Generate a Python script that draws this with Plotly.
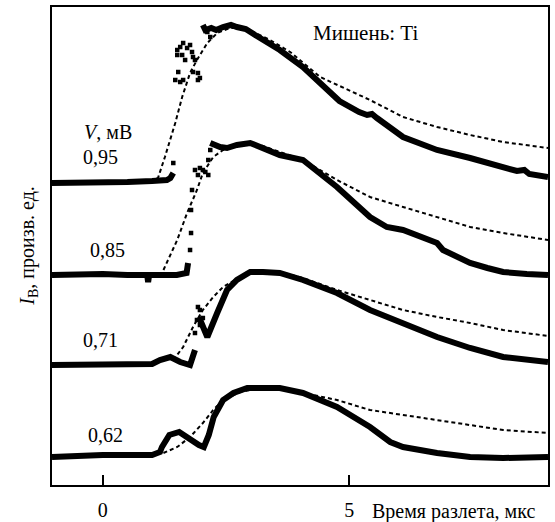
import plotly.graph_objects as go

# ---- time axis (мкс) and signal (arb. units, offset curves) ----
# V = 0.95 mV
t95 = [-1.03, -0.5, 0.0, 0.5, 1.0, 1.3, 1.37, 1.43]
i95 = [302, 302, 302, 303, 304, 305, 307, 312]
t95b = [2.03, 2.08, 2.2, 2.3, 2.44, 2.6, 2.72, 2.9, 3.09, 3.39, 3.59, 4.06, 4.41, 4.8, 5.2, 5.36, 5.46, 5.56,
        6.09, 6.78, 7.45, 8.12, 8.4, 8.55, 8.65, 9.03]
i95b = [460, 455, 457, 455, 458, 460, 458, 456, 450, 441, 435, 418, 402, 384, 373, 370, 371, 367,
        348, 335, 327, 318, 314, 315, 311, 308]
t95s = [1.43, 1.51, 1.57, 1.63, 1.71, 1.77, 1.81, 1.61, 1.51, 1.67, 1.83, 1.87, 1.53, 1.47, 1.57, 1.63,
        1.83, 1.93, 1.97, 1.93, 2.12, 2.18]
i95s = [322, 435, 438, 442, 437, 440, 433, 430, 430, 425, 428, 425, 413, 405, 403, 405,
        413, 412, 407, 405, 453, 448]
tf95 = [0.96, 1.12, 1.26, 1.47, 1.61, 1.77, 1.91, 2.12, 2.32, 2.58, 2.89, 3.39, 3.80, 4.41, 5.42, 6.09,
        6.78, 7.45, 8.12, 9.03]
if95 = [304, 307, 328, 362, 388, 412, 425, 442, 452, 457, 457, 445, 433, 408, 385, 368,
        358, 350, 343, 337]

# V = 0.85 mV
t85 = [-1.03, -0.5, 0.0, 0.5, 0.9, 0.92, 0.94, 1.5, 1.7, 1.73]
i85 = [210, 211, 211, 210, 210, 203, 210, 210, 212, 222]
t85b = [2.18, 2.38, 2.52, 2.72, 2.99, 3.25, 3.39, 3.59, 4.06, 4.75, 5.42, 5.76, 6.09, 6.78, 6.9,
        7.45, 7.8, 8.12, 8.6, 9.03]
i85b = [342, 338, 337, 340, 342, 337, 335, 330, 325, 298, 268, 258, 255, 242, 235,
        222, 217, 213, 211, 210]
t85s = [1.77, 1.79, 1.79, 1.81, 1.87, 1.97, 2.08, 1.93, 2.14, 2.03, 2.18, 2.14]
i85s = [235, 252, 275, 295, 315, 317, 313, 310, 310, 315, 335, 325]
tf85 = [1.23, 1.51, 1.71, 1.91, 2.03, 2.24, 2.44, 2.79, 3.19, 3.59, 4.06, 4.75, 5.42, 6.09, 6.78,
        7.45, 8.12, 9.03]
if85 = [215, 245, 272, 295, 312, 328, 335, 340, 340, 333, 325, 305, 288, 278, 268,
        258, 252, 245]

# V = 0.71 mV
t71 = [-1.03, 0.0, 1.0, 1.16, 1.37, 1.57, 1.77, 1.87]
i71 = [120, 120, 121, 125, 128, 123, 120, 135]
t71b = [1.95, 2.08, 2.12, 2.32, 2.52, 2.72, 2.99, 3.25, 3.59, 4.06, 4.75, 5.42, 6.09, 6.78, 7.45,
        8.12, 9.03]
i71b = [168, 150, 148, 172, 195, 205, 213, 213, 212, 205, 192, 175, 162, 148, 137,
        128, 123]
t71s = [1.87, 1.91, 1.97, 1.93, 2.03, 1.97]
i71s = [152, 165, 175, 178, 167, 160]
tf71 = [1.43, 1.63, 1.83, 2.03, 2.24, 2.44, 2.72, 3.09, 3.59, 4.06, 4.75, 5.42, 6.09, 6.78, 7.45,
        8.12, 9.03]
if71 = [125, 138, 158, 175, 188, 198, 206, 213, 213, 207, 195, 185, 175, 168, 162,
        155, 149]

# V = 0.62 mV
t62 = [-1.03, 0.0, 1.0, 1.16, 1.2, 1.35, 1.55, 1.75, 1.95, 2.05, 2.15, 2.25, 2.32, 2.44, 2.65,
       2.93, 3.33, 3.59, 4.06, 4.75, 5.42, 5.83, 6.09, 6.78, 7.45, 8.12, 9.03]
i62 = [28, 30, 30, 33, 38, 50, 53, 46, 40, 38, 50, 68, 75, 85, 92,
       97, 97, 97, 92, 78, 58, 43, 38, 32, 28, 27, 28]
tf62 = [1.23, 1.51, 1.77, 2.03, 2.24, 2.44, 2.79, 3.19, 3.59, 4.06, 4.75, 5.42, 6.09, 6.78, 7.45,
        8.12, 9.03]
if62 = [32, 38, 48, 62, 75, 85, 93, 97, 97, 92, 85, 75, 70, 65, 60,
        55, 52]

labels = ["0,95", "0,85", "0,71", "0,62"]
label_t = [-0.05, 0.09, -0.05, 0.05]
label_i = [328, 235, 145, 50]
x_ticks = [0, 5]
x_ticktext = ["0", "5"]

FONT = "Liberation Serif, DejaVu Serif, Times New Roman, serif"
FS = 20
fig = go.Figure()

def solid(x, y):
    fig.add_trace(go.Scatter(x=x, y=y, mode="lines", line=dict(color="black", width=6),
                             showlegend=False, hoverinfo="skip"))

def dots(x, y):
    fig.add_trace(go.Scatter(x=x, y=y, mode="markers", marker=dict(color="black", size=4.5, symbol="square"),
                             showlegend=False, hoverinfo="skip"))

def fit(x, y):
    fig.add_trace(go.Scatter(x=x, y=y, mode="lines", line=dict(color="black", width=2, dash="4px,3px"),
                             showlegend=False, hoverinfo="skip"))

for f in [(tf95, if95), (tf85, if85), (tf71, if71), (tf62, if62)]:
    fit(*f)
for s in [(t95, i95), (t95b, i95b), (t85, i85), (t85b, i85b), (t71, i71), (t71b, i71b), (t62, i62)]:
    solid(*s)
for d in [(t95s, i95s), (t85s, i85s), (t71s, i71s)]:
    dots(*d)

ann = []
for lab, lt, li in zip(labels, label_t, label_i):
    ann.append(dict(x=lt, y=li, xref="x", yref="y", text=lab, showarrow=False,
                    font=dict(family=FONT, size=FS, color="black")))
ann.append(dict(x=0.11, y=353, xref="x", yref="y", text="<i>V</i>, мВ", showarrow=False,
                font=dict(family=FONT, size=FS, color="black")))
ann.append(dict(x=5.32, y=452, xref="x", yref="y", text="Мишень: Ti", showarrow=False,
                font=dict(family=FONT, size=FS + 1, color="black")))
ann.append(dict(x=5.42, y=-0.056, xref="x", yref="paper", xanchor="left", yanchor="middle",
                text="Время разлета, мкс", showarrow=False,
                font=dict(family=FONT, size=FS, color="black")))
ann.append(dict(x=-0.049, y=0.5, xref="paper", yref="paper", xanchor="center", yanchor="middle",
                textangle=-90, text="<i>I</i><sub>В</sub>, произв. ед.", showarrow=False,
                font=dict(family=FONT, size=FS, color="black")))

fig.update_layout(
    width=555, height=522,
    margin=dict(l=52, r=7, t=7, b=37, autoexpand=False),
    paper_bgcolor="white", plot_bgcolor="white",
    font=dict(family=FONT, size=FS, color="black"),
    annotations=ann,
    xaxis=dict(range=[-1.03, 9.03], tickvals=x_ticks, ticktext=x_ticktext, ticks="inside",
               ticklen=10, tickwidth=1.5, tickcolor="black", showgrid=False, zeroline=False,
               showline=True, mirror=True, linecolor="black", linewidth=1.5,
               ticklabelstandoff=6, automargin=False,
               tickfont=dict(family=FONT, size=FS, color="black")),
    yaxis=dict(range=[0, 478], showticklabels=False, ticks="", showgrid=False, zeroline=False,
               showline=True, mirror=True, linecolor="black", linewidth=1.5, automargin=False),
)

fig.write_html("out.html")
